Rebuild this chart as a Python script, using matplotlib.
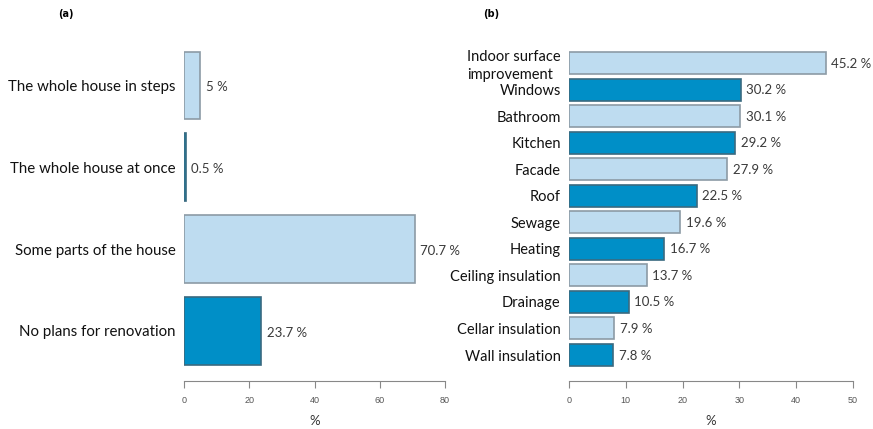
import matplotlib
matplotlib.use("Agg")
import matplotlib.pyplot as plt
import numpy as np

# panel (a): renovation plans
plan_labels = ["No plans for renovation", "Some parts of the house",
               "The whole house at once", "The whole house in steps"]
plan_values = [23.7, 70.7, 0.5, 5.0]
plan_tones = ["dark", "light", "dark", "light"]

# panel (b): renovated parts
part_labels = ["Wall insulation", "Cellar insulation", "Drainage", "Ceiling insulation",
               "Heating", "Sewage", "Roof", "Facade", "Kitchen", "Bathroom",
               "Windows", "Indoor surface\nimprovement"]
part_values = [7.8, 7.9, 10.5, 13.7, 16.7, 19.6, 22.5, 27.9, 29.2, 30.1, 30.2, 45.2]
part_tones = ["dark", "light"] * 6

fills = {"light": "#bedcf0", "dark": "#008fc7"}
edges = {"light": "#8c9ba5", "dark": "#3a6a80"}

plt.rcParams["font.family"] = ["Lato", "DejaVu Sans"]

fig = plt.figure(figsize=(8.73, 4.29), dpi=100)
W, H = 873, 429


def px_axes(x0, x1, y_top, y_bot):
    return fig.add_axes([x0 / W, 1 - y_bot / H, (x1 - x0) / W, (y_bot - y_top) / H])


def draw_panel(ax, labels, values, tones, xmax, xstep, ylim, lab_size, letter, letter_xy):
    pos = np.arange(len(values))
    for p, v, t in zip(pos, values, tones):
        ax.barh(p, v, height=0.83, color=fills[t], edgecolor=edges[t], linewidth=1.2)
        ax.text(v + xmax * 0.02, p - 0.02, f"{v:g} %", va="center", ha="left",
                fontsize=9.5, color="#3a3a3a")
    ax.set_ylim(*ylim)
    ax.set_xlim(0, xmax)
    ax.set_yticks(pos)
    ax.set_yticklabels(labels, fontsize=lab_size, color="#111111",
                       multialignment="left", linespacing=1.35)
    ax.tick_params(axis="y", length=0, pad=6)
    ax.set_xticks(np.arange(0, xmax + 1, xstep))
    for t in ax.get_xticklabels():
        t.set_family("Liberation Sans")
    ax.tick_params(axis="x", length=5, width=0.8, color="#888888",
                   labelsize=6.5, labelcolor="#555555", pad=6)
    for s in ["top", "right", "left"]:
        ax.spines[s].set_visible(False)
    ax.spines["bottom"].set_color("#888888")
    ax.spines["bottom"].set_linewidth(0.8)
    ax.set_xlabel("%", fontsize=9.5, color="#333333", labelpad=7)
    fig.text(letter_xy[0] / W, 1 - letter_xy[1] / H, letter, fontsize=7,
             fontweight="bold", ha="center", va="center", family="DejaVu Sans")


ax_a = px_axes(184, 445, 40, 381)
draw_panel(ax_a, plan_labels, plan_values, plan_tones, 80, 20,
           (-0.611, 3.556), 10.8, "(a)", (66, 14))

ax_b = px_axes(569, 853, 40, 381)
draw_panel(ax_b, part_labels, part_values, part_tones, 50, 10,
           (-0.979, 11.866), 10.5, "(b)", (491, 14))

fig.savefig("out.png", dpi=100)
